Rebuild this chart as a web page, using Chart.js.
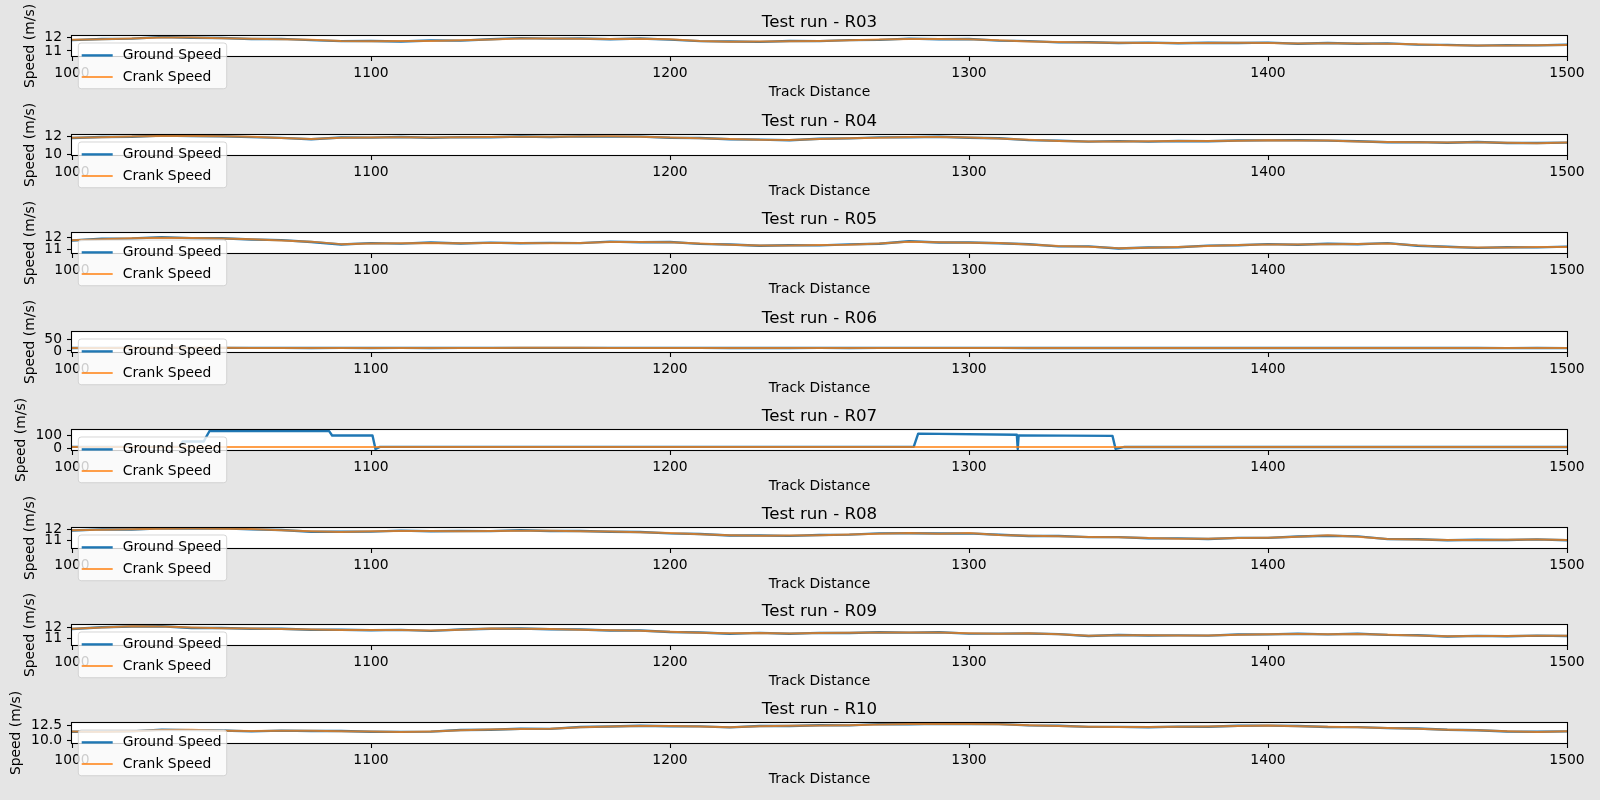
<!DOCTYPE html>
<html><head><meta charset="utf-8">
<script src="https://cdn.jsdelivr.net/npm/chart.js@4.4.1/dist/chart.umd.min.js"></script>
<style>
html,body{margin:0;padding:0;background:#e5e5e5;width:1600px;height:800px;overflow:hidden;}
canvas{position:absolute;left:0;}
</style></head><body>
<script>
// ---------- DATA ----------
const runs = ['R03','R04','R05','R06','R07','R08','R09','R10'];
const xTicks = [1000,1100,1200,1300,1400,1500];
const distance = [1000,1010,1020,1030,1040,1050,1060,1070,1080,1090,
  1100,1110,1120,1130,1140,1150,1160,1170,1180,1190,
  1200,1210,1220,1230,1240,1250,1260,1270,1280,1290,
  1300,1310,1320,1330,1340,1350,1360,1370,1380,1390,
  1400,1410,1420,1430,1440,1450,1460,1470,1480,1490,1500];

const crankR03 = [11.85,11.88,11.95,12.02,12.02,11.96,11.92,11.88,11.85,11.76,
 11.73,11.75,11.76,11.80,11.86,11.95,11.95,11.92,11.90,11.92,
 11.88,11.76,11.70,11.72,11.73,11.76,11.80,11.86,11.90,11.90,
 11.88,11.80,11.72,11.68,11.64,11.62,11.60,11.61,11.60,11.62,
 11.61,11.57,11.58,11.56,11.55,11.50,11.44,11.42,11.42,11.44,11.45];
const groundR03 = [11.82,11.90,11.93,12.05,12.00,11.98,11.90,11.91,11.82,11.74,
 11.75,11.72,11.79,11.78,11.88,11.97,11.93,11.94,11.88,11.94,
 11.86,11.74,11.72,11.69,11.75,11.74,11.82,11.84,11.93,11.88,
 11.90,11.78,11.74,11.65,11.66,11.60,11.63,11.58,11.62,11.60,
 11.63,11.55,11.60,11.54,11.57,11.48,11.46,11.40,11.44,11.42,11.47];

const crankR04 = [11.85,11.90,11.98,12.05,12.05,12.00,11.95,11.82,11.72,11.85,
 11.88,11.90,11.88,11.90,11.92,11.95,11.95,11.98,12.00,11.95,
 11.88,11.80,11.72,11.62,11.60,11.72,11.80,11.86,11.92,11.93,
 11.88,11.78,11.62,11.50,11.45,11.45,11.46,11.48,11.50,11.52,
 11.58,11.55,11.56,11.45,11.38,11.35,11.33,11.35,11.30,11.25,11.33];
const groundR04 = [11.82,11.93,11.96,12.08,12.03,12.02,11.92,11.84,11.68,11.87,
 11.86,11.93,11.85,11.92,11.90,11.98,11.93,12.00,11.97,11.97,
 11.85,11.82,11.69,11.64,11.57,11.74,11.78,11.89,11.90,11.96,
 11.85,11.80,11.59,11.52,11.42,11.48,11.43,11.50,11.47,11.55,
 11.56,11.58,11.53,11.47,11.35,11.37,11.30,11.38,11.27,11.28,11.31];

const crankR05 = [11.77,11.85,11.93,11.97,11.95,11.90,11.85,11.75,11.65,11.45,
 11.50,11.52,11.55,11.52,11.55,11.55,11.52,11.55,11.62,11.62,
 11.60,11.50,11.40,11.35,11.34,11.38,11.40,11.50,11.65,11.60,
 11.56,11.55,11.42,11.30,11.25,11.13,11.16,11.22,11.30,11.38,
 11.42,11.43,11.45,11.47,11.50,11.35,11.22,11.18,11.18,11.22,11.23];
const groundR05 = [11.74,11.88,11.91,12.00,11.93,11.92,11.82,11.77,11.62,11.42,
 11.53,11.49,11.58,11.50,11.57,11.52,11.55,11.53,11.65,11.60,
 11.62,11.47,11.42,11.32,11.36,11.35,11.43,11.48,11.68,11.58,
 11.58,11.52,11.44,11.27,11.27,11.10,11.18,11.20,11.33,11.36,
 11.45,11.40,11.48,11.44,11.53,11.32,11.24,11.15,11.20,11.19,11.25];

const crankR06 = [13.2,13.3,13.4,13.5,13.5,13.4,13.3,13.3,13.2,13.1,
 13.1,13.1,13.2,13.2,13.3,13.4,13.4,13.4,13.3,13.3,
 13.3,13.1,13.0,13.0,13.0,13.1,13.2,13.3,13.3,13.3,
 13.3,13.2,13.1,13.0,12.9,12.9,12.9,12.9,12.9,12.9,
 12.9,12.8,12.8,12.8,12.8,12.8,12.7,12.7,12.6,12.6,12.6];
const groundR06 = [13.1,13.4,13.3,13.6,13.4,13.5,13.2,13.4,13.1,13.2,
 13.0,13.2,13.1,13.3,13.2,13.5,13.3,13.5,13.2,13.4,
 13.2,13.2,12.9,13.1,12.9,13.2,13.1,13.4,13.2,13.4,
 13.2,13.3,13.0,13.1,12.8,13.0,12.8,13.0,12.8,13.0,
 12.8,12.9,12.7,12.9,12.7,12.9,12.6,12.8,12.5,12.7,12.5];

const crankR07 = [13.0,13.1,13.2,13.3,13.3,13.2,13.2,13.1,13.1,13.0,
 13.0,13.0,13.1,13.1,13.2,13.2,13.3,13.3,13.2,13.2,
 13.1,13.0,12.9,12.9,13.0,13.0,13.1,13.2,13.2,13.2,
 13.1,13.1,13.0,12.9,12.9,12.8,12.8,12.8,12.8,12.9,
 12.9,12.8,12.8,12.7,12.7,12.7,12.6,12.6,12.5,12.5,12.6];
const groundDistR07 = [1000,1010,1020,1030,1036,1037,1044,1046,1060,1086,
 1087,1100.5,1101.5,1103,1120,1150,1200,1250,1281.5,1283,
 1316,1316.3,1316.6,1348,1349,1352,1400,1450,1500];
const groundR07 = [13.0,13.1,13.2,13.3,13.2,55,55,137,137,136,
 102,102,-3,13,13.0,13.2,13.1,13.0,13.2,117,
 108,-3,103,99,-2,13,12.9,12.7,12.6];

const crankR08 = [11.93,11.98,12.03,12.07,12.10,12.08,12.04,11.93,11.82,11.76,
 11.82,11.86,11.85,11.83,11.86,11.89,11.87,11.84,11.80,11.74,
 11.66,11.55,11.45,11.41,11.42,11.45,11.53,11.60,11.66,11.60,
 11.66,11.48,11.40,11.36,11.29,11.25,11.20,11.13,11.12,11.18,
 11.22,11.30,11.44,11.32,11.10,11.05,11.00,11.00,11.02,11.04,11.00];
const groundR08 = [11.90,12.01,12.00,12.10,12.08,12.11,12.01,11.95,11.79,11.78,
 11.80,11.89,11.83,11.86,11.84,11.92,11.85,11.86,11.78,11.76,
 11.63,11.57,11.43,11.43,11.39,11.48,11.51,11.63,11.64,11.62,
 11.63,11.50,11.38,11.38,11.27,11.27,11.17,11.15,11.10,11.20,
 11.20,11.33,11.41,11.34,11.08,11.07,10.97,11.02,11.00,11.06,10.98];

const crankR09 = [11.90,12.00,12.12,12.10,12.00,11.95,11.92,11.88,11.82,11.78,
 11.78,11.77,11.73,11.80,11.92,11.90,11.87,11.80,11.75,11.72,
 11.63,11.53,11.47,11.50,11.45,11.50,11.52,11.56,11.56,11.55,
 11.47,11.43,11.48,11.38,11.26,11.30,11.30,11.27,11.28,11.34,
 11.40,11.42,11.40,11.42,11.35,11.28,11.20,11.22,11.23,11.24,11.25];
const groundR09 = [11.87,12.03,12.10,12.13,11.97,11.97,11.90,11.90,11.80,11.80,
 11.76,11.79,11.70,11.83,11.90,11.92,11.85,11.82,11.73,11.74,
 11.60,11.55,11.44,11.52,11.43,11.52,11.50,11.58,11.54,11.57,
 11.45,11.45,11.46,11.40,11.23,11.32,11.28,11.29,11.26,11.36,
 11.38,11.44,11.38,11.44,11.33,11.30,11.18,11.24,11.21,11.26,11.23];

const crankR10 = [11.50,11.42,11.55,11.72,11.76,11.62,11.56,11.60,11.60,11.55,
 11.50,11.40,11.50,11.70,11.82,11.90,11.96,12.20,12.33,12.39,
 12.39,12.30,12.20,12.36,12.42,12.48,12.52,12.65,12.70,12.72,
 12.72,12.66,12.52,12.40,12.28,12.22,12.22,12.26,12.30,12.40,
 12.48,12.36,12.26,12.18,12.08,11.95,11.80,11.68,11.52,11.42,11.55];
const groundR10 = [11.46,11.47,11.52,11.77,11.72,11.66,11.52,11.64,11.57,11.58,
 11.46,11.44,11.47,11.74,11.79,11.94,11.93,12.24,12.30,12.43,
 12.36,12.33,12.17,12.40,12.39,12.52,12.49,12.69,12.67,12.76,
 12.69,12.70,12.49,12.43,12.25,12.25,12.19,12.29,12.27,12.43,
 12.45,12.39,12.23,12.21,12.05,11.98,11.77,11.71,11.49,11.45,11.52];

const groundDist = [distance, distance, distance, distance, groundDistR07, distance, distance, distance];
const groundSeries = [groundR03, groundR04, groundR05, groundR06, groundR07, groundR08, groundR09, groundR10];
const crankSeries = [crankR03, crankR04, crankR05, crankR06, crankR07, crankR08, crankR09, crankR10];

const yMin = [10.62, 9.96, 10.74, -4.7, -11, 10.24, 10.40, 9.62];
const yMax = [12.13, 12.15, 12.34, 83, 145, 12.14, 12.24, 12.88];
const yTicks = [[11,12],[10,12],[11,12],[0,50],[0,100],[11,12],[11,12],[10,12.5]];
const yTickLabels = [['11','12'],['10','12'],['11','12'],['0','50'],['0','100'],['11','12'],['11','12'],['10.0','12.5']];

// ---------- LAYOUT / STYLE ----------
const canvasTop = [1, 100, 198, 297, 395, 493, 590, 688];
const yTitleX = [30, 30, 30, 30, 21.5, 30, 30, 16.5];
const FAMILY = "'DejaVu Sans', sans-serif";
const FS = 13.89;

const framePlugin = {
  id: 'frame',
  beforeDraw(chart) {
    const {ctx, chartArea: a} = chart;
    ctx.save();
    ctx.fillStyle = '#ffffff';
    ctx.fillRect(a.left, a.top, a.right - a.left, a.bottom - a.top);
    ctx.restore();
  },
  afterDatasetsDraw(chart) {
    const {ctx, chartArea: a} = chart;
    ctx.save();
    ctx.strokeStyle = '#000';
    ctx.lineWidth = 1.1;
    ctx.strokeRect(a.left - 0.5, a.top - 0.5, a.right - a.left + 1, a.bottom - a.top + 1);
    ctx.restore();
  }
};

const legendPlugin = {
  id: 'mplLegend',
  afterDraw(chart) {
    const {ctx, chartArea: a} = chart;
    const x0 = a.left + 6.3, y0 = a.top + 7, w = 148.4, h = 45.7, r = 2.8;
    ctx.save();
    ctx.beginPath();
    ctx.moveTo(x0 + r, y0);
    ctx.lineTo(x0 + w - r, y0);
    ctx.arcTo(x0 + w, y0, x0 + w, y0 + r, r);
    ctx.lineTo(x0 + w, y0 + h - r);
    ctx.arcTo(x0 + w, y0 + h, x0 + w - r, y0 + h, r);
    ctx.lineTo(x0 + r, y0 + h);
    ctx.arcTo(x0, y0 + h, x0, y0 + h - r, r);
    ctx.lineTo(x0, y0 + r);
    ctx.arcTo(x0, y0, x0 + r, y0, r);
    ctx.closePath();
    ctx.fillStyle = 'rgba(255,255,255,0.8)';
    ctx.fill();
    ctx.strokeStyle = 'rgba(204,204,204,0.8)';
    ctx.lineWidth = 1;
    ctx.stroke();
    const ds = chart.data.datasets;
    ds.forEach((d, i) => {
      const y = a.top + 19.4 + i * 21.6;
      ctx.beginPath();
      ctx.strokeStyle = d.borderColor;
      ctx.lineWidth = d.borderWidth;
      ctx.moveTo(a.left + 9.7, y);
      ctx.lineTo(a.left + 40.7, y);
      ctx.stroke();
      ctx.fillStyle = '#000';
      ctx.font = FS + 'px ' + FAMILY;
      ctx.textBaseline = 'middle';
      ctx.textAlign = 'left';
      ctx.fillText(d.label, a.left + 50.7, y);
    });
    ctx.restore();
  }
};

function makeChart(i) {
  const canvas = document.createElement('canvas');
  canvas.width = 1600;
  canvas.height = 98;
  canvas.style.top = canvasTop[i] + 'px';
  canvas.style.width = '1600px';
  canvas.style.height = '98px';
  document.body.appendChild(canvas);
  const gd = groundDist[i];
  const gData = groundSeries[i].map((v, k) => ({x: gd[k], y: v}));
  const cData = crankSeries[i].map((v, k) => ({x: distance[k], y: v}));
  const tickVals = yTicks[i];
  const tickLabs = yTickLabels[i];
  new Chart(canvas, {
    type: 'line',
    data: {
      datasets: [
        {label: 'Ground Speed', data: gData, borderColor: '#1f77b4', borderWidth: 2.4,
         pointRadius: 0, tension: 0, order: 2, clip: 0, borderJoinStyle: 'round', fill: false},
        {label: 'Crank Speed', data: cData, borderColor: 'rgba(255,127,14,0.75)', borderWidth: 2.0,
         pointRadius: 0, tension: 0, order: 1, clip: 0, borderJoinStyle: 'round', fill: false}
      ]
    },
    options: {
      responsive: false,
      animation: false,
      devicePixelRatio: 1,
      events: [],
      layout: {padding: {left: 0, right: 33, top: 0, bottom: 0}},
      plugins: {
        legend: {display: false},
        tooltip: {enabled: false},
        title: {
          display: true, text: 'Test run - ' + runs[i], fullSize: false, color: '#000',
          font: {family: FAMILY, size: 16.67, weight: 'normal', lineHeight: 1.2},
          padding: {top: 11.5, bottom: 3.5}
        }
      },
      scales: {
        x: {
          type: 'linear', min: 1000, max: 1500,
          afterBuildTicks: (s) => { s.ticks = xTicks.map(v => ({value: v})); },
          afterFit: (s) => { s.height = 43; s.paddingLeft = 0; s.paddingRight = 0; },
          grid: {display: true, drawOnChartArea: false, drawTicks: true, tickLength: 5, tickColor: '#000', tickWidth: 1.1},
          border: {display: false},
          ticks: {color: '#000', font: {family: FAMILY, size: FS}, padding: 3.6, maxRotation: 0, autoSkip: false,
                  callback: (v) => String(v)},
          title: {display: true, text: 'Track Distance', color: '#000', font: {family: FAMILY, size: FS, lineHeight: 1.0}, padding: {top: 0, bottom: 0}}
        },
        y: {
          type: 'linear', min: yMin[i], max: yMax[i],
          afterBuildTicks: (s) => { s.ticks = tickVals.map(v => ({value: v})); },
          afterFit: (s) => { s.width = 72; s.paddingTop = 0; s.paddingBottom = 0; },
          grid: {display: true, drawOnChartArea: false, drawTicks: true, tickLength: 5, tickColor: '#000', tickWidth: 1.1},
          border: {display: false},
          ticks: {color: '#000', font: {family: FAMILY, size: FS}, padding: 5, autoSkip: false,
                  callback: (v) => { const k = tickVals.indexOf(v); return k >= 0 ? tickLabs[k] : ''; }},
          title: {display: true, text: 'Speed (m/s)', color: '#000', font: {family: FAMILY, size: FS},
                  padding: {top: yTitleX[i] - FS * 0.6, bottom: 0}}
        }
      }
    },
    plugins: [framePlugin, legendPlugin]
  });
}

for (let i = 0; i < runs.length; i++) makeChart(i);
</script>
</body></html>
